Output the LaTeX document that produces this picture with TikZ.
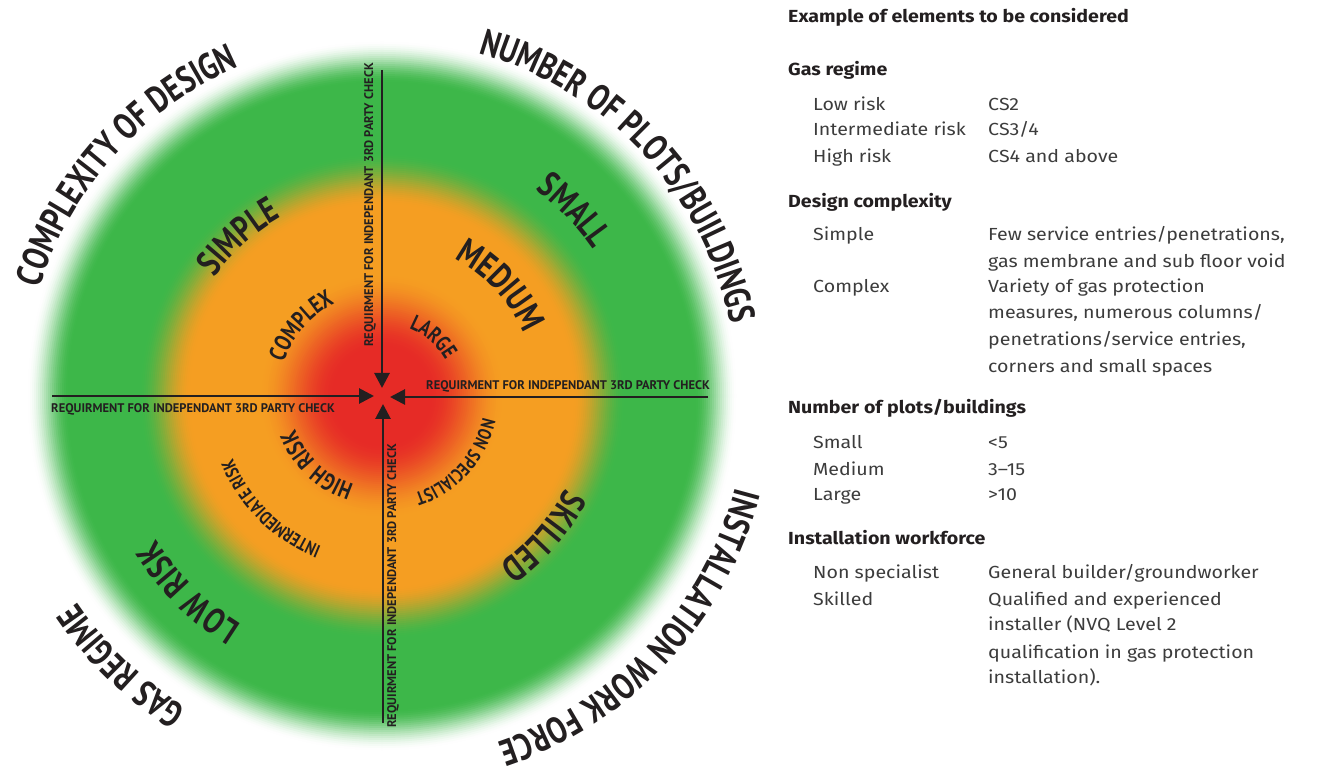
\documentclass[tikz,border=0pt]{standalone}
\usepackage{fontspec}
\usepackage{graphicx}
\usetikzlibrary{arrows.meta,decorations.text}
\setmainfont{Fira Sans}
\newfontfamily\rfont[FakeStretch=1.12,Ligatures=TeX]{Fira Sans}
\newfontfamily\lbl[FakeStretch=0.78]{PT Sans}
\newfontfamily\arrfont{PT Sans}
\definecolor{cred}{HTML}{E62B26}
\definecolor{corange}{HTML}{F59E22}
\definecolor{cgreen}{HTML}{3DB749}
\definecolor{ink}{HTML}{231F20}
\definecolor{body}{HTML}{3C3C3C}
\newcommand\arclabel[5]{%
  \path[decorate, decoration={text along path, text align=center,
      text={|\color{ink}\lbl\bfseries\fontsize{#4}{#4}\selectfont|#5}}]
    ([shift={(#1+#3:#2)}]c) arc[start angle=#1+#3, end angle=#1-#3, radius=#2];}
\tikzset{
  arr/.style={line width=2.8pt, ink, -{Triangle[length=15pt,width=15pt]}},
  arrlbl/.style={font=\arrfont\bfseries\fontsize{12.5}{13}\selectfont, text=ink, inner sep=0pt},
  head/.style={font=\rfont\bfseries\fontsize{17.5}{19}\selectfont, text=ink, anchor=base west, inner sep=0pt},
  item/.style={font=\rfont\fontsize{17.5}{19}\selectfont, text=body, anchor=base west, inner sep=0pt}
}
\begin{document}
\begin{tikzpicture}[x=1pt,y=1pt]
\useasboundingbox (0,0) rectangle (1330,774);
\coordinate (c) at (382,378);
% ---- radial gradient rings
\foreach \r in {356,354,...,314}{\pgfmathsetmacro\t{(\r-314)/42}\pgfmathsetmacro\p{100*(3*\t*\t-2*\t*\t*\t)}\fill[white!\p!cgreen] (c) circle (\r);}
\foreach \r in {244,242,...,192}{\pgfmathsetmacro\t{(\r-192)/52}\pgfmathsetmacro\p{100*(3*\t*\t-2*\t*\t*\t)}\fill[cgreen!\p!corange] (c) circle (\r);}
\foreach \r in {124,122,...,48}{\pgfmathsetmacro\t{(\r-48)/76}\pgfmathsetmacro\p{100*(3*\t*\t-2*\t*\t*\t)}\fill[corange!\p!cred] (c) circle (\r);}
\fill[cred] (c) circle (48);
% ---- arrows
\coordinate (lS) at (52,378);  \coordinate (lT) at (374,378);
\coordinate (rS) at (708,377); \coordinate (rT) at (390,377);
\coordinate (tS) at (382,704); \coordinate (tT) at (382,386);
\coordinate (bS) at (383,51);  \coordinate (bT) at (383,370);
\draw[arr] (lS) -- (lT);
\draw[arr] (rS) -- (rT);
\draw[arr] (tS) -- (tT);
\draw[arr] (bS) -- (bT);
\node[arrlbl] (la) at (193,365) {REQUIRMENT FOR INDEPENDANT 3RD PARTY CHECK};
\node[arrlbl] (ra) at (568,388) {REQUIRMENT FOR INDEPENDANT 3RD PARTY CHECK};
\node[arrlbl, rotate=90] (ta) at (370,569) {REQUIRMENT FOR INDEPENDANT 3RD PARTY CHECK};
\node[arrlbl, rotate=90] (ba) at (393,188) {REQUIRMENT FOR INDEPENDANT 3RD PARTY CHECK};
% ---- outer titles
\arclabel{138}{359}{60}{37}{COMPLEXITY OF DESIGN}
\arclabel{43}{356}{60}{37}{NUMBER OF PLOTS/BUILDINGS}
\arclabel{-43}{365}{60}{37}{INSTALLATION WORK FORCE}
\arclabel{226}{368}{60}{37}{GAS REGIME}
% ---- inner labels
\arclabel{132}{205}{60}{36}{SIMPLE}
\arclabel{44}{257}{60}{36}{SMALL}
\arclabel{43}{155}{70}{36}{MEDIUM}
\arclabel{49}{73}{80}{22}{LARGE}
\arclabel{139}{104}{80}{24}{COMPLEX}
\arclabel{226.6}{93}{80}{24}{HIGH RISK}
\arclabel{225.4}{162}{70}{18.5}{INTERMEDIATE RISK}
\arclabel{225.3}{268}{60}{36}{LOW RISK}
\arclabel{-42}{103}{80}{19}{NON SPECIALIST}
\arclabel{-41}{205}{60}{36}{SKILLED}
% ---- right text
\node[head] (h0) at (788,751) {Example of elements to be considered};
\node[head] (h1) at (788,698) {Gas regime};
\node[item] (a1) at (813,663) {Low risk};
\node[item] (b1) at (988,663) {CS2};
\node[item] (a2) at (813,638) {Intermediate risk};
\node[item] (b2) at (988,638) {CS3/4};
\node[item] (a3) at (813,611) {High risk};
\node[item] (b3) at (988,611) {CS4 and above};
\node[head] (h2) at (788,566) {Design complexity};
\node[item] (a4) at (813,533) {Simple};
\node[item] (b4) at (988,533) {Few service entries/penetrations,};
\node[item] (b5) at (988,506) {gas membrane and sub floor void};
\node[item] (a6) at (813,481) {Complex};
\node[item] (b6) at (988,481) {Variety of gas protection};
\node[item] (b7) at (988,455) {measures, numerous columns/};
\node[item] (b8) at (988,428) {penetrations/service entries,};
\node[item] (b9) at (988,401) {corners and small spaces};
\node[head] (h3) at (788,360) {Number of plots/buildings};
\node[item] (a10) at (813,325) {Small};
\node[item] (b10) at (988,325) {<5};
\node[item] (a11) at (813,298) {Medium};
\node[item] (b11) at (988,298) {3–15};
\node[item] (a12) at (813,273) {Large};
\node[item] (b12) at (988,273) {>10};
\node[head] (h4) at (788,229) {Installation workforce};
\node[item] (a13) at (813,195) {Non specialist};
\node[item] (b13) at (988,195) {General builder/groundworker};
\node[item] (a14) at (813,168) {Skilled};
\node[item] (b14) at (988,168) {Qualified and experienced};
\node[item] (b15) at (988,143) {installer (NVQ Level 2};
\node[item] (b16) at (988,116) {qualification in gas protection};
\node[item] (b17) at (988,91) {installation).};
\end{tikzpicture}
\end{document}
